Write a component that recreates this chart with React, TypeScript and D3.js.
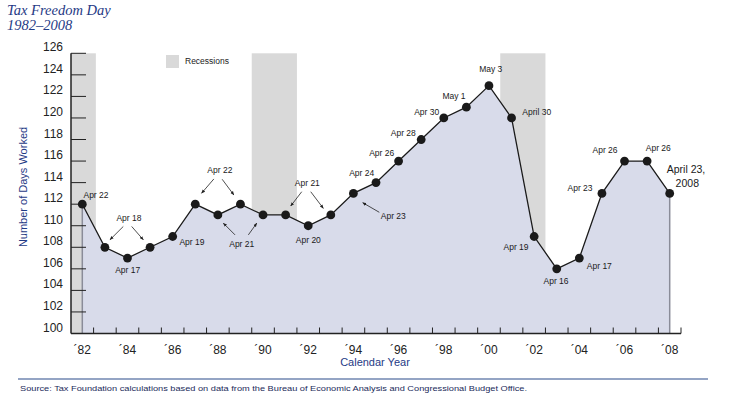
import React from "react";
import * as d3 from "d3";

// ---- data ----
const years = [1982, 1983, 1984, 1985, 1986, 1987, 1988, 1989, 1990, 1991, 1992, 1993, 1994, 1995, 1996, 1997, 1998, 1999, 2000, 2001, 2002, 2003, 2004, 2005, 2006, 2007, 2008];
const daysWorked = [112, 108, 107, 108, 109, 112, 111, 112, 111, 111, 110, 111, 113, 114, 116, 118, 120, 121, 123, 120, 109, 106, 107, 113, 116, 116, 113];
const recessions = [
  [1981.5, 1982.6],
  [1989.5, 1991.5],
  [2000.5, 2002.5],
];
const yTicks = [100, 102, 104, 106, 108, 110, 112, 114, 116, 118, 120, 122, 124, 126];
const xLabelYears = [1982, 1984, 1986, 1988, 1990, 1992, 1994, 1996, 1998, 2000, 2002, 2004, 2006, 2008];
const xLabels = ["\u00B482", "\u00B484", "\u00B486", "\u00B488", "\u00B490", "\u00B492", "\u00B494", "\u00B496", "\u00B498", "\u00B400", "\u00B402", "\u00B404", "\u00B406", "\u00B408"];
const minorTickYears = [1982.5, 1983.5, 1984.5, 1985.5, 1986.5, 1987.5, 1988.5, 1989.5, 1990.5, 1991.5, 1992.5, 1993.5, 1994.5, 1995.5, 1996.5, 1997.5, 1998.5, 1999.5, 2000.5, 2001.5, 2002.5, 2003.5, 2004.5, 2005.5, 2006.5, 2007.5, 2008.5];

// annotation texts (anchor year) with layout offsets
type Ann = { year: number; text: string; dx: number; dy: number; arrows?: number[][] };
const annotations: Ann[] = [
  { year: 1982, text: "Apr 22", dx: 13.7, dy: -9 },
  { year: 1984, text: "Apr 18", dx: 1.5, dy: -40, arrows: [[-5.7, 8.4, -19, 21.7], [2.7, 8.4, 14.3, 21.7]] },
  { year: 1984, text: "Apr 17", dx: 0.2, dy: 12 },
  { year: 1986, text: "Apr 19", dx: 19.3, dy: 5.8 },
  { year: 1988, text: "Apr 22", dx: 2, dy: -45, arrows: [[-6, 9, -18.3, 23.3], [2.3, 9.3, 14, 25]] },
  { year: 1989, text: "Apr 21", dx: 1.3, dy: 40, arrows: [[-6.7, -9.3, -18.4, -21], [6.6, -9.3, 15, -21]] },
  { year: 1992, text: "Apr 21", dx: -0.9, dy: -43, arrows: [[-5.6, 9, -16.6, 23.3], [3.4, 9, 16, 25.6]] },
  { year: 1992, text: "Apr 20", dx: 0.1, dy: 14.3 },
  { year: 1994, text: "Apr 23", dx: 39.9, dy: 22.6, arrows: [[-14, -3.7, -30.6, -13.3]] },
  { year: 1995, text: "Apr 24", dx: -14.3, dy: -9.3 },
  { year: 1996, text: "Apr 26", dx: -16.9, dy: -7.8 },
  { year: 1997, text: "Apr 28", dx: -17.9, dy: -6.2 },
  { year: 1998, text: "Apr 30", dx: -17.1, dy: -6.3 },
  { year: 1999, text: "May 1", dx: -12.4, dy: -11.2 },
  { year: 2000, text: "May 3", dx: 1.8, dy: -16.4 },
  { year: 2001, text: "April 30", dx: 25.2, dy: -6.3 },
  { year: 2002, text: "Apr 19", dx: -18.1, dy: 10.2 },
  { year: 2003, text: "Apr 16", dx: -0.7, dy: 11.9 },
  { year: 2004, text: "Apr 17", dx: 20, dy: 7.6 },
  { year: 2005, text: "Apr 23", dx: -21.9, dy: -5.1 },
  { year: 2006, text: "Apr 26", dx: -19.5, dy: -11.1 },
  { year: 2007, text: "Apr 26", dx: 11.2, dy: -12.8 },
];
const finalLabel = ["April 23,", "2008"];

const BLUE = "#1f3a85";
const SANS = "'Liberation Sans', Arial, sans-serif";

export default function App() {
  const W = 740, H = 399;
  const x = d3.scaleLinear().domain([1981.5, 2008.5]).range([71, 681]);
  const y = d3.scaleLinear().domain([100, 126]).range([333.5, 53.3]);
  const pts = years.map((yr, i) => [x(yr), y(daysWorked[i])] as [number, number]);
  const line = d3.line<[number, number]>()(pts) || "";
  const area = d3.area<[number, number]>().x(d => d[0]).y0(y(100)).y1(d => d[1])(pts) || "";
  const pt = (yr: number) => pts[years.indexOf(yr)];
  const last = pts[pts.length - 1];
  const first = pts[0];

  return (
    <svg width={W} height={H} style={{ position: "absolute", left: 0, top: 0, background: "#fff" }}>
      <defs>
        <marker id="ah" viewBox="0 0 10 10" refX="9" refY="5" markerWidth="5" markerHeight="5" orient="auto">
          <path d="M0,1 L10,5 L0,9 z" fill="#222" />
        </marker>
      </defs>
      {/* title */}
      <text x={7} y={15} fontFamily="'Liberation Serif', 'Times New Roman', serif" fontStyle="italic" fontSize={14.5} fill={BLUE}>Tax Freedom Day</text>
      <text x={7} y={29.5} fontFamily="'Liberation Serif', 'Times New Roman', serif" fontStyle="italic" fontSize={14.5} fill={BLUE}>1982–2008</text>

      {/* recessions */}
      {recessions.map((r, i) => (
        <rect key={i} x={x(r[0])} y={y(126)} width={x(r[1]) - x(r[0])} height={y(100) - y(126)} fill="#d9d9d9" />
      ))}
      {/* legend */}
      <rect x={166} y={55} width={13} height={13} fill="#d9d9d9" />
      <text x={185} y={64} fontFamily={SANS} fontSize={8.5} fill="#222">Recessions</text>

      {/* area */}
      <path d={area} fill="#d8dbea" />
      <line x1={first[0]} x2={first[0]} y1={first[1]} y2={y(100)} stroke="#8a8c99" strokeWidth={1.5} />
      <line x1={last[0]} x2={last[0]} y1={last[1]} y2={y(100)} stroke="#8a8c99" strokeWidth={1.5} />

      {/* y axis */}
      <line x1={71} x2={71} y1={y(126)} y2={y(100)} stroke="#222" strokeWidth={1.5} />
      {yTicks.map(t => (
        <g key={t}>
          <line x1={71} x2={86} y1={y(t)} y2={y(t)} stroke="#222" strokeWidth={1} />
          <text x={63} y={y(t) - 2} textAnchor="end" fontFamily={SANS} fontSize={12} fill="#222">{t}</text>
        </g>
      ))}
      <text transform={`translate(27,187) rotate(-90)`} textAnchor="middle" fontFamily={SANS} fontSize={11} fill={BLUE}>Number of Days Worked</text>

      {/* x axis */}
      <line x1={71} x2={681} y1={y(100)} y2={y(100)} stroke="#222" strokeWidth={1.5} />
      {minorTickYears.map(t => (
        <line key={t} x1={x(t)} x2={x(t)} y1={y(100)} y2={y(100) - 6} stroke="#222" strokeWidth={1} />
      ))}
      {xLabelYears.map((yr, i) => (
        <text key={yr} x={x(yr)} y={354} textAnchor="middle" fontFamily={SANS} fontSize={12} fill="#222">{xLabels[i]}</text>
      ))}
      <text x={375} y={366} textAnchor="middle" fontFamily={SANS} fontSize={11} fill={BLUE}>Calendar Year</text>

      {/* line and points */}
      <path d={line} fill="none" stroke="#1a1a1a" strokeWidth={1.3} />
      {pts.map((p, i) => (
        <circle key={i} cx={p[0]} cy={p[1]} r={4.4} fill="#1a1a1a" />
      ))}

      {/* annotations */}
      {annotations.map((a, i) => {
        const p = pt(a.year);
        const cx = p[0] + a.dx, cy = p[1] + a.dy;
        return (
          <g key={i}>
            <text x={cx} y={cy + 3} textAnchor="middle" fontFamily={SANS} fontSize={8.5} fill="#1a1a1a">{a.text}</text>
            {(a.arrows || []).map((ar, j) => (
              <line key={j} x1={cx + ar[0]} y1={cy + ar[1]} x2={cx + ar[2]} y2={cy + ar[3]} stroke="#222" strokeWidth={0.8} markerEnd="url(#ah)" />
            ))}
          </g>
        );
      })}
      <text x={last[0] + 16.3} y={last[1] - 20.5} textAnchor="middle" fontFamily={SANS} fontSize={10.5} fill="#1a1a1a">{finalLabel[0]}</text>
      <text x={last[0] + 17.6} y={last[1] - 6.5} textAnchor="middle" fontFamily={SANS} fontSize={10.5} fill="#1a1a1a">{finalLabel[1]}</text>

      {/* source */}
      <line x1={18} x2={708} y1={379} y2={379} stroke="#2a4a8a" strokeWidth={1.2} />
      <text x={20} y={391} fontFamily={SANS} fontSize={7.8} fill="#1a2a5a" textLength={507} lengthAdjust="spacingAndGlyphs">Source:  Tax Foundation calculations based on data from the Bureau of Economic Analysis and Congressional Budget Office.</text>
    </svg>
  );
}
